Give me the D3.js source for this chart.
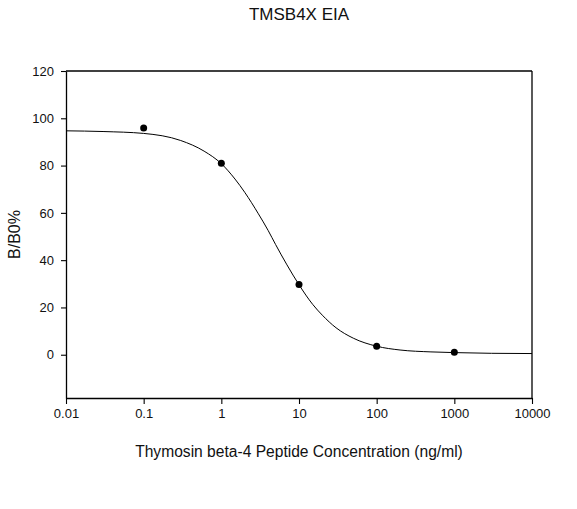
<!DOCTYPE html>
<html>
<head>
<meta charset="utf-8">
<script src="https://cdn.jsdelivr.net/npm/d3@7"></script>
<style>
  body { margin: 0; background: #fff; }
  svg { display: block; font-family: "Liberation Sans", Arial, sans-serif; }
</style>
</head>
<body>
<svg id="chart"></svg>
<script>
// measured standards (ng/ml) and B/B0 %
const concentrations = [0.1, 1, 10, 100, 1000];
const bb0 = [95.9, 81.0, 29.7, 3.6, 1.0];

// fitted curve
const curveX = [0.01, 0.03, 0.1, 0.3, 0.6, 1, 1.5, 2, 3, 4, 5, 7, 10, 15, 20, 30, 50, 100, 200, 500, 1000, 3000, 10000];
const curveY = [94.7, 94.4, 93.6, 90.6, 86.1, 80.8, 74.3, 68.7, 59.6, 52.6, 46.6, 38.0, 29.6, 21.3, 16.7, 11.4, 7.0, 3.6, 2.0, 1.2, 0.9, 0.6, 0.5];

const xTicks = [0.01, 0.1, 1, 10, 100, 1000, 10000];
const yTicks = [0, 20, 40, 60, 80, 100, 120];

const width = 577;
const height = 509;
const margin = { top: 71, right: 45, bottom: 111, left: 66 };
const innerWidth = width - margin.left - margin.right;
const innerHeight = height - margin.top - margin.bottom;

const svg = d3.select('#chart').attr('width', width).attr('height', height);
const inner = svg.append('g').attr('transform', `translate(${margin.left}, ${margin.top})`);

const xScale = d3.scaleLog().domain([0.01, 10000]).range([0, innerWidth]);
const yScale = d3.scaleLinear().domain([-18.3, 120]).range([innerHeight, 0]);

const xAxis = d3.axisBottom(xScale).tickValues(xTicks).tickSize(6).tickSizeOuter(0).tickPadding(5)
  .tickFormat(d => String(d));
const yAxis = d3.axisLeft(yScale).tickValues(yTicks).tickSize(5).tickSizeOuter(0).tickPadding(7);

inner.append('g')
  .attr('class', 'x-axis')
  .attr('transform', `translate(0, ${innerHeight})`)
  .call(xAxis);

inner.append('g')
  .attr('class', 'y-axis')
  .call(yAxis);

inner.selectAll('.domain').attr('stroke', '#000').attr('stroke-width', 1.3);
inner.selectAll('.tick line').attr('stroke', '#000').attr('stroke-width', 1.1);
inner.selectAll('.tick text').attr('fill', '#111').style('font-size', '13px');

// top and right frame
inner.append('line').attr('x1', 0).attr('x2', innerWidth).attr('y1', 0).attr('y2', 0)
  .attr('stroke', '#000').attr('stroke-width', 1.3);
inner.append('line').attr('x1', innerWidth).attr('x2', innerWidth).attr('y1', 0).attr('y2', innerHeight)
  .attr('stroke', '#000').attr('stroke-width', 1.3);

const line = d3.line()
  .x((d, i) => xScale(curveX[i]))
  .y(d => yScale(d))
  .curve(d3.curveMonotoneX);

inner.append('path')
  .datum(curveY)
  .attr('fill', 'none')
  .attr('stroke', '#000')
  .attr('stroke-width', 1)
  .attr('d', line);

inner.selectAll('.pt')
  .data(bb0)
  .join('circle')
  .attr('class', 'pt')
  .attr('cx', (d, i) => xScale(concentrations[i]))
  .attr('cy', d => yScale(d))
  .attr('r', 3.5)
  .attr('fill', '#000');

svg.append('text')
  .attr('text-anchor', 'middle')
  .attr('x', margin.left + innerWidth / 2)
  .attr('y', 19.5)
  .attr('fill', '#111')
  .style('font-size', '17px')
  .text('TMSB4X EIA');

svg.append('text')
  .attr('text-anchor', 'middle')
  .attr('x', margin.left + innerWidth / 2)
  .attr('y', 457)
  .attr('fill', '#111')
  .style('font-size', '15.6px')
  .text('Thymosin beta-4 Peptide Concentration (ng/ml)');

svg.append('text')
  .attr('text-anchor', 'middle')
  .attr('transform', `translate(20, ${margin.top + innerHeight / 2}) rotate(-90)`)
  .attr('fill', '#111')
  .style('font-size', '16px')
  .text('B/B0%');
</script>
</body>
</html>
